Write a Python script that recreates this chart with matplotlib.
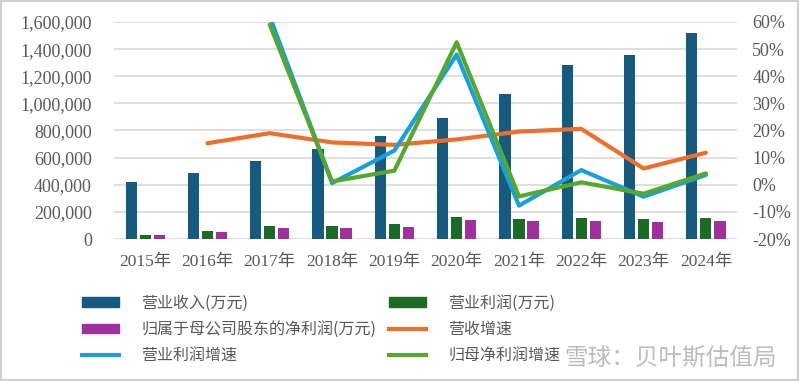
import numpy as np
import matplotlib.pyplot as plt
from matplotlib.patches import Rectangle, Patch
from matplotlib.lines import Line2D
from matplotlib.ticker import FuncFormatter

years = ['2015年', '2016年', '2017年', '2018年', '2019年',
         '2020年', '2021年', '2022年', '2023年', '2024年']
revenue = [420000, 487000, 575000, 664000, 762000, 894000, 1067000, 1283000, 1359000, 1521000]
op_profit = [29500, 59000, 96000, 96000, 108000, 162000, 147000, 155000, 147000, 155000]
net_profit = [27000, 52000, 81000, 81000, 86000, 138000, 130000, 130000, 122000, 130000]
rev_growth = [np.nan, 15.3, 19.0, 15.6, 14.7, 16.7, 19.6, 20.6, 6.0, 11.8]
op_growth = [np.nan, np.nan, 62.0, 0.6, 12.6, 48.0, -7.7, 5.4, -4.4, 3.6]
net_growth = [np.nan, np.nan, 59.0, 1.2, 5.2, 52.5, -4.3, 0.9, -3.3, 4.2]

c_rev = '#175A80'
c_op = '#1B6B27'
c_net = '#A0309B'
c_rg = '#EE6E2C'
c_og = '#18A0DC'
c_ng = '#55A82C'
txt = '#595959'

fam_num = ['Liberation Serif', 'Noto Sans CJK SC']
fam_cjk = ['Noto Sans CJK SC', 'DejaVu Sans']

fig = plt.figure(figsize=(8, 3.81), dpi=100)
ax = fig.add_axes([0.1425, 0.3727, 0.7788, 0.5696])
x = np.arange(len(years))
w = 0.18
ax.bar(x - 0.225, revenue, w, color=c_rev, zorder=2)
ax.bar(x, op_profit, w, color=c_op, zorder=2)
ax.bar(x + 0.225, net_profit, w, color=c_net, zorder=2)
ax.set_xlim(-0.5, 9.5)
ax.set_ylim(0, 1600000)
ax.set_yticks(np.arange(0, 1600001, 200000))
ax.yaxis.set_major_formatter(FuncFormatter(lambda v, p: f'{int(v):,}'))
ax.grid(axis='y', color='#d9d9d9', lw=1.2, zorder=0)
ax.set_xticks(x)
ax.set_xticklabels(years)
for s in ax.spines.values():
    s.set_visible(False)
ax.tick_params(axis='y', length=0, pad=16, labelsize=13, colors=txt)
ax.tick_params(axis='x', length=0, pad=11, labelsize=12.5, colors=txt)
for lab in ax.get_xticklabels() + ax.get_yticklabels():
    lab.set_family(fam_num)

ax2 = ax.twinx()
kw = dict(lw=3, solid_capstyle='round', solid_joinstyle='round', zorder=3)
ax2.plot(x, rev_growth, color=c_rg, **kw)
ax2.plot(x, op_growth, color=c_og, **kw)
ax2.plot(x, net_growth, color=c_ng, **kw)
ax2.set_ylim(-20, 60)
ax2.set_yticks(np.arange(-20, 61, 10))
ax2.yaxis.set_major_formatter(FuncFormatter(lambda v, p: f'{int(v)}%'))
for s in ax2.spines.values():
    s.set_visible(False)
ax2.tick_params(axis='y', length=0, pad=11, labelsize=13, colors=txt)
for lab in ax2.get_yticklabels():
    lab.set_family(fam_num)

# legend, column-major order so rows match the reference
handles = [
    Patch(color=c_rev), Patch(color=c_net), Line2D([], [], color=c_og, lw=3),
    Patch(color=c_op), Line2D([], [], color=c_rg, lw=3), Line2D([], [], color=c_ng, lw=3),
]
labels = ['营业收入(万元)', '归属于母公司股东的净利润(万元)', '营业利润增速',
          '营业利润(万元)', '营收增速', '归母净利润增速']
fig.legend(handles, labels, ncol=2, loc='upper left', bbox_to_anchor=(0.085, 0.265),
           frameon=False, prop={'family': fam_cjk, 'size': 11.5},
           handlelength=2.3, handleheight=0.55, handletextpad=1.4,
           columnspacing=0.8, labelspacing=0.6, labelcolor=txt)

fig.text(0.705, 0.04, '雪球：贝叶斯估值局', family=fam_cjk, fontsize=17,
         color='#a0a0a0', alpha=0.7)

fig.patches.append(Rectangle((0.001, 0.002), 0.997, 0.995, transform=fig.transFigure,
                             fill=False, edgecolor='#d0d0d0', lw=1.5))

fig.savefig('out.png', dpi=100)
